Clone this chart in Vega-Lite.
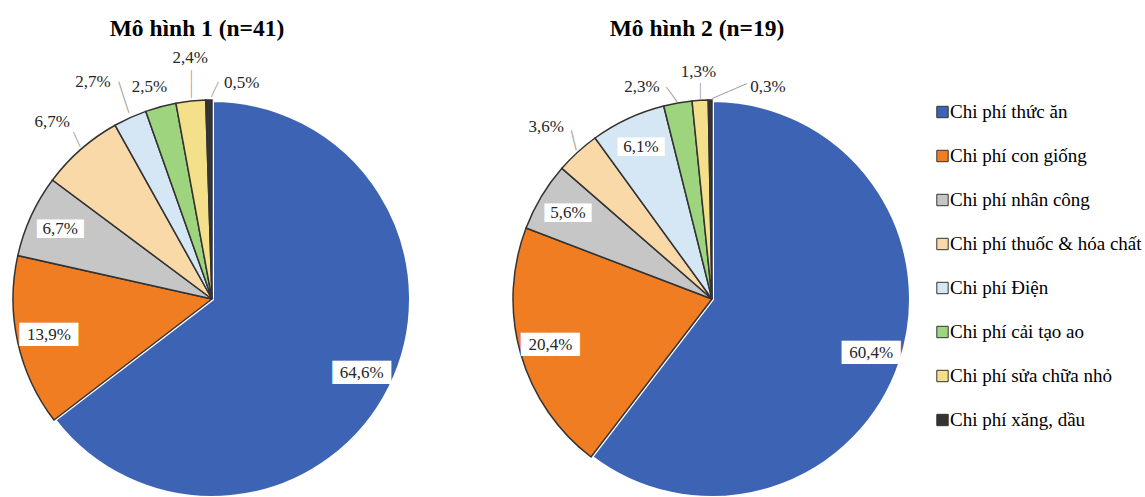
{
  "$schema": "https://vega.github.io/schema/vega-lite/v6.json",
  "background": "white",
  "autosize": {"type": "none"},
  "padding": {"left": 2, "top": 100, "right": 1143, "bottom": 397},
  "spacing": 80,
  "bounds": "flush",
  "config": {
    "view": {"stroke": null},
    "font": "Liberation Serif",
    "locale": {"number": {"decimal": ",", "thousands": ".", "grouping": [3], "currency": ["", ""]}},
    "title": {"font": "Liberation Serif", "fontSize": 23.5, "fontWeight": "bold", "color": "#000", "baseline": "alphabetic", "dx": -15, "anchor": "middle", "frame": "group"},
    "text": {"font": "Liberation Serif", "fontSize": 17, "color": "#262626", "baseline": "middle", "align": "center"}
  },
  "datasets": {
    "m1": [
      {"cat": "Chi phí thức ăn", "k": 1, "v": 0.646},
      {"cat": "Chi phí con giống", "k": 2, "v": 0.139},
      {"cat": "Chi phí nhân công", "k": 3, "v": 0.067},
      {"cat": "Chi phí thuốc & hóa chất", "k": 4, "v": 0.067},
      {"cat": "Chi phí Điện", "k": 5, "v": 0.027},
      {"cat": "Chi phí cải tạo ao", "k": 6, "v": 0.025},
      {"cat": "Chi phí sửa chữa nhỏ", "k": 7, "v": 0.024},
      {"cat": "Chi phí xăng, dầu", "k": 8, "v": 0.005}
    ],
    "m2": [
      {"cat": "Chi phí thức ăn", "k": 1, "v": 0.604},
      {"cat": "Chi phí con giống", "k": 2, "v": 0.204},
      {"cat": "Chi phí nhân công", "k": 3, "v": 0.056},
      {"cat": "Chi phí thuốc & hóa chất", "k": 4, "v": 0.036},
      {"cat": "Chi phí Điện", "k": 5, "v": 0.061},
      {"cat": "Chi phí cải tạo ao", "k": 6, "v": 0.023},
      {"cat": "Chi phí sửa chữa nhỏ", "k": 7, "v": 0.013},
      {"cat": "Chi phí xăng, dầu", "k": 8, "v": 0.003}
    ]
  },
  "hconcat": [
    {
      "title": {"text": "Mô hình 1 (n=41)", "offset": 8},
      "width": 420,
      "height": 398,
      "data": {"name": "m1"},
      "encoding": {
        "theta": {"field": "v", "type": "quantitative", "stack": true},
        "order": {"field": "k", "type": "quantitative"}
      },
      "layer": [
        {
          "mark": {"type": "arc", "radius": 199},
          "encoding": {
            "color": {
              "field": "cat", "type": "nominal",
              "scale": {
                "domain": ["Chi phí thức ăn", "Chi phí con giống", "Chi phí nhân công", "Chi phí thuốc & hóa chất", "Chi phí Điện", "Chi phí cải tạo ao", "Chi phí sửa chữa nhỏ", "Chi phí xăng, dầu"],
                "range": ["#3d64b4", "#f07d22", "#c6c6c6", "#f9d9a8", "#d5e7f5", "#9fd47f", "#f4e08a", "#333333"]
              },
              "legend": {
                "orient": "none", "legendX": 931, "legendY": 2.5, "title": null, "padding": 0,
                "symbolType": "square", "symbolSize": 130, "symbolStrokeColor": "#333", "symbolStrokeWidth": 1,
                "labelFont": "Liberation Serif", "labelFontSize": 19, "labelColor": "#000", "labelOffset": -2, "labelLimit": 300,
                "rowPadding": 24
              }
            },
            "stroke": {"condition": {"test": "datum.k === 1", "value": "white"}, "value": "#333"},
            "strokeWidth": {"condition": {"test": "datum.k === 1", "value": 4}, "value": 1.5}
          }
        },
        {
          "mark": {"type": "text", "radius": 167, "font": "DejaVu Sans Mono", "color": "white"},
          "encoding": {
            "size": {"condition": {"test": "datum.v >= 0.1", "value": 19.5}, "value": 15.5},
            "text": {"condition": {"test": "datum.k <= 3", "value": "█████"}, "value": ""}
          }
        },
        {
          "mark": {"type": "text", "radius": 167},
          "encoding": {"text": {"condition": {"test": "datum.k <= 3", "field": "v", "type": "quantitative", "format": ".1%"}, "value": ""}}
        },
        {
          "mark": {"type": "text", "radius": 210, "dx": -0.1, "dy": -3.35, "angle": 65, "font": "DejaVu Sans Mono", "fontSize": 9.2, "color": "#999999"},
          "encoding": {"text": {"condition": {"test": "datum.k === 4", "value": "───"}, "value": ""}}
        },
        {
          "mark": {"type": "text", "radius": 221, "dx": 0.6, "dy": -1.9, "angle": 72, "font": "DejaVu Sans Mono", "fontSize": 10.8, "color": "#999999"},
          "encoding": {"text": {"condition": {"test": "datum.k === 5", "value": "─────"}, "value": ""}}
        },
        {
          "mark": {"type": "text", "radius": 216, "dy": -2, "angle": 90, "font": "DejaVu Sans Mono", "fontSize": 9.3, "color": "#999999"},
          "encoding": {"text": {"condition": {"test": "datum.k === 7", "value": "─────"}, "value": ""}}
        },
        {
          "mark": {"type": "text", "radius": 209.5, "dx": -2.5, "dy": -5.4, "angle": 115, "font": "DejaVu Sans Mono", "fontSize": 9.1, "color": "#999999"},
          "encoding": {"text": {"condition": {"test": "datum.k === 8", "value": "───"}, "value": ""}}
        },
        {
          "mark": {"type": "text", "radius": 238, "dx": -3, "dy": 2},
          "encoding": {"text": {"condition": {"test": "datum.k === 4", "field": "v", "type": "quantitative", "format": ".1%"}, "value": ""}}
        },
        {
          "mark": {"type": "text", "radius": 238, "dx": -21},
          "encoding": {"text": {"condition": {"test": "datum.k === 5", "field": "v", "type": "quantitative", "format": ".1%"}, "value": ""}}
        },
        {
          "mark": {"type": "text", "radius": 219, "dx": -6},
          "encoding": {"text": {"condition": {"test": "datum.k === 6", "field": "v", "type": "quantitative", "format": ".1%"}, "value": ""}}
        },
        {
          "mark": {"type": "text", "radius": 242, "dx": 4},
          "encoding": {"text": {"condition": {"test": "datum.k === 7", "field": "v", "type": "quantitative", "format": ".1%"}, "value": ""}}
        },
        {
          "mark": {"type": "text", "radius": 216, "dx": 33},
          "encoding": {"text": {"condition": {"test": "datum.k === 8", "field": "v", "type": "quantitative", "format": ".1%"}, "value": ""}}
        }
      ]
    },
    {
      "title": {"text": "Mô hình 2 (n=19)", "offset": 15},
      "width": 420,
      "height": 398,
      "data": {"name": "m2"},
      "encoding": {
        "theta": {"field": "v", "type": "quantitative", "stack": true},
        "order": {"field": "k", "type": "quantitative"}
      },
      "layer": [
        {
          "mark": {"type": "arc", "radius": 199},
          "encoding": {
            "color": {"field": "cat", "type": "nominal"},
            "stroke": {"condition": {"test": "datum.k === 1", "value": "white"}, "value": "#333"},
            "strokeWidth": {"condition": {"test": "datum.k === 1", "value": 4}, "value": 1.5}
          }
        },
        {
          "mark": {"type": "text", "radius": 168, "font": "DejaVu Sans Mono", "color": "white"},
          "encoding": {
            "size": {"condition": {"test": "datum.v >= 0.1", "value": 19.5}, "value": 15.5},
            "text": {"condition": {"test": "datum.k <= 3 || datum.k === 5", "value": "█████"}, "value": ""}
          }
        },
        {
          "mark": {"type": "text", "radius": 168},
          "encoding": {"text": {"condition": {"test": "datum.k <= 3 || datum.k === 5", "field": "v", "type": "quantitative", "format": ".1%"}, "value": ""}}
        },
        {
          "mark": {"type": "text", "radius": 215, "dx": 1.45, "dy": -5.8, "angle": 76, "font": "DejaVu Sans Mono", "fontSize": 11.4, "color": "#999999"},
          "encoding": {"text": {"condition": {"test": "datum.k === 4", "value": "───"}, "value": ""}}
        },
        {
          "mark": {"type": "text", "radius": 207, "dx": -2.9, "dy": 4, "angle": 54, "font": "DejaVu Sans Mono", "fontSize": 10.3, "color": "#999999"},
          "encoding": {"text": {"condition": {"test": "datum.k === 6", "value": "───"}, "value": ""}}
        },
        {
          "mark": {"type": "text", "radius": 208, "angle": 90, "font": "DejaVu Sans Mono", "fontSize": 9.4, "color": "#999999"},
          "encoding": {"text": {"condition": {"test": "datum.k === 7", "value": "───"}, "value": ""}}
        },
        {
          "mark": {"type": "text", "radius": 208.5, "dx": -17.5, "dy": -7.4, "angle": 157, "font": "DejaVu Sans Mono", "fontSize": 10.5, "color": "#999999"},
          "encoding": {"text": {"condition": {"test": "datum.k === 8", "value": "──────"}, "value": ""}}
        },
        {
          "mark": {"type": "text", "radius": 239, "dx": -4.5, "dy": 4},
          "encoding": {"text": {"condition": {"test": "datum.k === 4", "field": "v", "type": "quantitative", "format": ".1%"}, "value": ""}}
        },
        {
          "mark": {"type": "text", "radius": 215, "dx": -33},
          "encoding": {"text": {"condition": {"test": "datum.k === 6", "field": "v", "type": "quantitative", "format": ".1%"}, "value": ""}}
        },
        {
          "mark": {"type": "text", "radius": 227},
          "encoding": {"text": {"condition": {"test": "datum.k === 7", "field": "v", "type": "quantitative", "format": ".1%"}, "value": ""}}
        },
        {
          "mark": {"type": "text", "radius": 212, "dx": 58},
          "encoding": {"text": {"condition": {"test": "datum.k === 8", "field": "v", "type": "quantitative", "format": ".1%"}, "value": ""}}
        }
      ]
    }
  ]
}
